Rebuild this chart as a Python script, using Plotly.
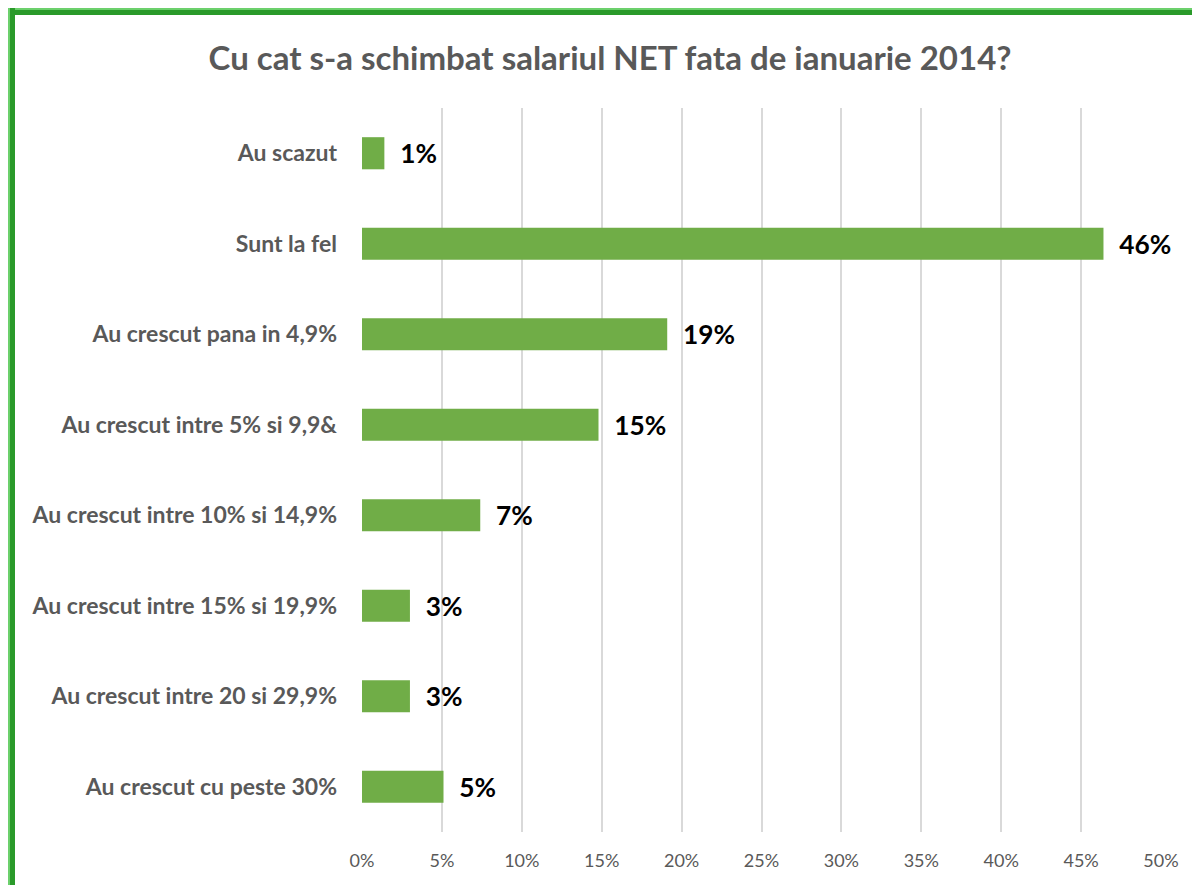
import plotly.graph_objects as go

categories = [
    "Au scazut",
    "Sunt la fel",
    "Au crescut pana in 4,9%",
    "Au crescut intre 5% si 9,9&",
    "Au crescut intre 10% si 14,9%",
    "Au crescut intre 15% si 19,9%",
    "Au crescut intre 20 si 29,9%",
    "Au crescut cu peste 30%",
]
values = [1.4, 46.4, 19.1, 14.8, 7.4, 3.0, 3.0, 5.1]
labels = ["1%", "46%", "19%", "15%", "7%", "3%", "3%", "5%"]
tick_vals = [0, 5, 10, 15, 20, 25, 30, 35, 40, 45, 50]
tick_text = ["0%", "5%", "10%", "15%", "20%", "25%", "30%", "35%", "40%", "45%", "50%"]

# page has 8px body margin; figure sized to fill the rest of the window
OFF = 8
W, H = 1200 - OFF, 885 - OFF
ml, mr, mt, mb = 362 - OFF, 39, 108 - OFF, 53

fig = go.Figure(go.Bar(
    y=categories,
    x=values,
    orientation="h",
    marker=dict(color="#70AD47", line=dict(width=0)),
    text=["<b>\u00a0\u00a0%s</b>" % t for t in labels],
    textposition="outside",
    textfont=dict(family="Lato, sans-serif", size=27, color="#000000"),
    cliponaxis=False,
))

def px2paper_x(px):
    return (px - OFF - ml) / (W - ml - mr)

def px2paper_y(py):
    return 1 - (py - OFF - mt) / (H - mt - mb)

shapes = [
    dict(type="rect", xref="paper", yref="paper",
         x0=px2paper_x(8), x1=px2paper_x(1210), y0=px2paper_y(15), y1=px2paper_y(8),
         fillcolor="#2A9A2A", line=dict(width=0), layer="above"),
    dict(type="rect", xref="paper", yref="paper",
         x0=px2paper_x(8), x1=px2paper_x(1210), y0=px2paper_y(10), y1=px2paper_y(8),
         fillcolor="#6CD06C", line=dict(width=0), layer="above"),
    dict(type="rect", xref="paper", yref="paper",
         x0=px2paper_x(8), x1=px2paper_x(15), y0=px2paper_y(900), y1=px2paper_y(8),
         fillcolor="#2A9A2A", line=dict(width=0), layer="above"),
    dict(type="rect", xref="paper", yref="paper",
         x0=px2paper_x(8), x1=px2paper_x(10), y0=px2paper_y(900), y1=px2paper_y(8),
         fillcolor="#6CD06C", line=dict(width=0), layer="above"),
]

fig.update_layout(
    width=W, height=H,
    margin=dict(l=ml, r=mr, t=mt, b=mb, pad=0),
    paper_bgcolor="white",
    plot_bgcolor="white",
    bargap=0.645,
    showlegend=False,
    title=dict(
        text="<b>Cu cat s-a schimbat salariul NET fata de ianuarie 2014?</b>",
        x=(610 - OFF) / W, xanchor="center", y=1 - (58 - OFF) / H, yanchor="middle",
        font=dict(family="Lato, sans-serif", size=33, color="#595959"),
    ),
    xaxis=dict(
        range=[0, 50],
        tickvals=tick_vals,
        ticktext=tick_text,
        showgrid=True,
        gridcolor="#D9D9D9",
        gridwidth=1.5,
        zeroline=False,
        showline=False,
        ticks="",
        ticklabelstandoff=16,
        tickfont=dict(family="Lato, sans-serif", size=18, color="#595959"),
    ),
    yaxis=dict(
        autorange="reversed",
        showgrid=False,
        zeroline=False,
        showline=False,
        ticks="",
        ticklabelstandoff=24,
        tickfont=dict(family="Lato, sans-serif", size=23, color="#595959", weight="bold"),
    ),
    shapes=shapes,
)

fig.write_html("out.html")
